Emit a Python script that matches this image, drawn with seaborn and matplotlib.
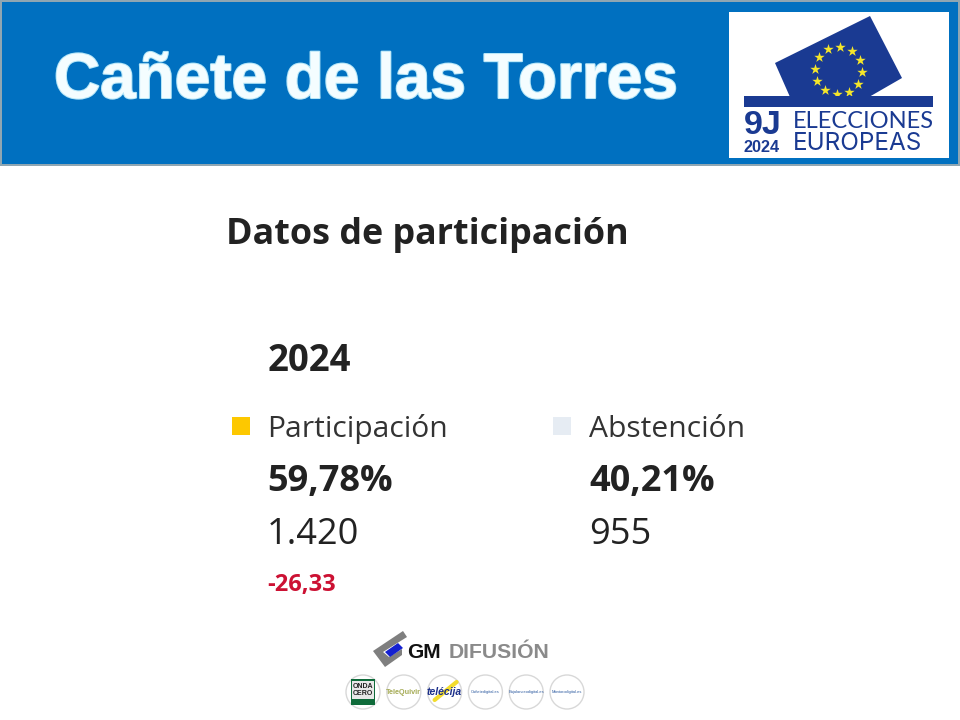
import numpy as np
import pandas as pd
import seaborn as sns
import matplotlib.pyplot as plt
import matplotlib.patheffects as pe
from matplotlib.patches import Polygon, Rectangle, Circle

# Data
municipio = 'Cañete de las Torres'
titulo = 'Datos de participación'
anio = '2024'
opciones = ['Participación', 'Abstención']
porcentajes = ['59,78%', '40,21%']
votos = ['1.420', '955']
variacion = ['-26,33', '']
colores = ['#fdc800', '#e6ecf3']
medios = ['ONDA\nCERO', 'TeleQuivir', 'telécija', 'Cañetedigital.es', 'Bujalanceodigital.es', 'Montorodigital.es']

sns.set_theme(style='white')
plt.rcParams['font.family'] = ['Open Sans', 'DejaVu Sans']

fig = plt.figure(figsize=(9.6, 7.2), dpi=100, facecolor='white')

# Page layer, one unit is one pixel
ax = fig.add_axes([0, 0, 1, 1])
ax.set_xlim(0, 960)
ax.set_ylim(720, 0)
ax.axis('off')

# Header band
ax.add_patch(Rectangle((0, 0), 960, 166, fc='#8fa6b2', ec='none'))
ax.add_patch(Rectangle((2, 2), 956, 162, fc='#0070c0', ec='none'))
ax.text(54, 81, municipio, family='Liberation Sans', weight='bold', fontsize=46,
        color='#f4fdff', va='center', ha='left',
        path_effects=[pe.withStroke(linewidth=1.5, foreground='#b5e6f8')])

# Elections logo
azul = '#1a3a92'
ax.add_patch(Rectangle((729, 12), 220, 146, fc='white', ec='none'))
ax.add_patch(Polygon([(775, 63), (870, 16), (902, 78), (869, 97), (790, 97)], fc=azul, ec='none'))
ang = np.deg2rad(np.arange(0, 360, 30) + 4)
ax.scatter(838.5 + 24 * np.cos(ang), 70.5 + 24 * np.sin(ang), marker='*', s=62, color='#f5e62a', lw=0, zorder=3)
ax.add_patch(Rectangle((744, 96), 189, 11, fc=azul, ec='none', zorder=4))
ax.text(744, 125, '9J', family='Liberation Sans', weight='bold', fontsize=24.5, color=azul, va='center', ha='left')
ax.text(744, 148, '2024', family='Liberation Sans', weight='bold', fontsize=11.7, color=azul, va='center', ha='left')
ax.text(793, 121, 'ELECCIONES', family='Lato', fontsize=17, color=azul, va='center', ha='left')
ax.text(793, 143, 'EUROPEAS', family='Inter', fontsize=17.5, color=azul, va='center', ha='left')

# Titles
ax.text(226, 235, titulo, weight='bold', fontsize=25.8, color='#222222', va='center', ha='left')
ax.text(268, 361, anio, weight='bold', fontsize=26.3, color='#222222', va='center', ha='left')

# Footer logo
ax.add_patch(Polygon([(373, 651), (403, 631), (407, 637), (383, 652), (389, 657), (402, 649), (402, 655), (385, 667)],
                     fc='#7f7f7f', ec='none'))
ax.add_patch(Polygon([(385, 652), (398, 643), (403, 648), (390, 657)], fc='#1420d0', ec='none'))
ax.text(407, 652, 'GM', family='Liberation Sans', weight='bold', fontsize=15, color='#111111', va='center', ha='left')
ax.text(449, 652, 'DIFUSIÓN', family='Liberation Sans', weight='bold', fontsize=15.2, color='#8a8a8a', va='center', ha='left')

# Footer circles
for i, nombre in enumerate(medios):
    cx = 363 + i * 40.8
    ax.add_patch(Circle((cx, 692), 17, fc='white', ec='#d8d8d8', lw=1))
    if i == 0:
        ax.add_patch(Rectangle((cx - 12, 679), 24, 26, fc='#0f6b3a', ec='none'))
        ax.add_patch(Rectangle((cx - 11, 681), 22, 18, fc='#e8e8e8', ec='none'))
        ax.text(cx, 690, nombre, family='Liberation Sans', weight='bold', fontsize=5, linespacing=1.1,
                color='#222222', ha='center', va='center')
    elif i == 1:
        ax.text(cx, 692, nombre, family='Liberation Sans', weight='bold', fontsize=5.2, color='#a5ab55', ha='center', va='center')
    elif i == 2:
        ax.plot([cx - 10, cx + 12], [700, 682], color='#f2dc2c', lw=3, solid_capstyle='round')
        ax.text(cx, 692, nombre, family='Liberation Sans', weight='bold', style='italic', fontsize=7.5,
                color='#1b2f8a', ha='center', va='center')
    else:
        ax.text(cx, 692, nombre, family='Liberation Sans', fontsize=2.9, color='#2c5aa0', ha='center', va='center')

# Results layer, the two options sit one column apart on a categorical x axis
df = pd.DataFrame({'opcion': opciones, 'fila': [0, 0]})
ax2 = fig.add_axes([0, 0, 1, 1], facecolor='none')
sns.scatterplot(data=df, x='opcion', y='fila', hue='opcion', palette=colores, marker='s', s=168,
                linewidth=0, legend=False, ax=ax2)
ax2.set_xlim(-241 / 321, (960 - 241) / 321)
ax2.set_ylim(-(720 - 426), 426)
ax2.axis('off')

for i, op in enumerate(opciones):
    dx = 26 + i
    ax2.annotate(op, (i, 0), xytext=(dx, 0), textcoords='offset pixels', fontsize=21.6, color='#333333', va='center_baseline')
    ax2.annotate(porcentajes[i], (i, 0), xytext=(dx, -51), textcoords='offset pixels', fontsize=26, weight='bold',
                 color='#222222', va='center_baseline')
    ax2.annotate(votos[i], (i, 0), xytext=(dx, -104), textcoords='offset pixels', fontsize=26, color='#222222',
                 va='center_baseline')
    if variacion[i]:
        ax2.annotate(variacion[i], (i, 0), xytext=(dx, -156), textcoords='offset pixels', fontsize=17, weight='bold',
                     color='#cc1133', va='center_baseline')

fig.savefig('out.png', dpi=100)
